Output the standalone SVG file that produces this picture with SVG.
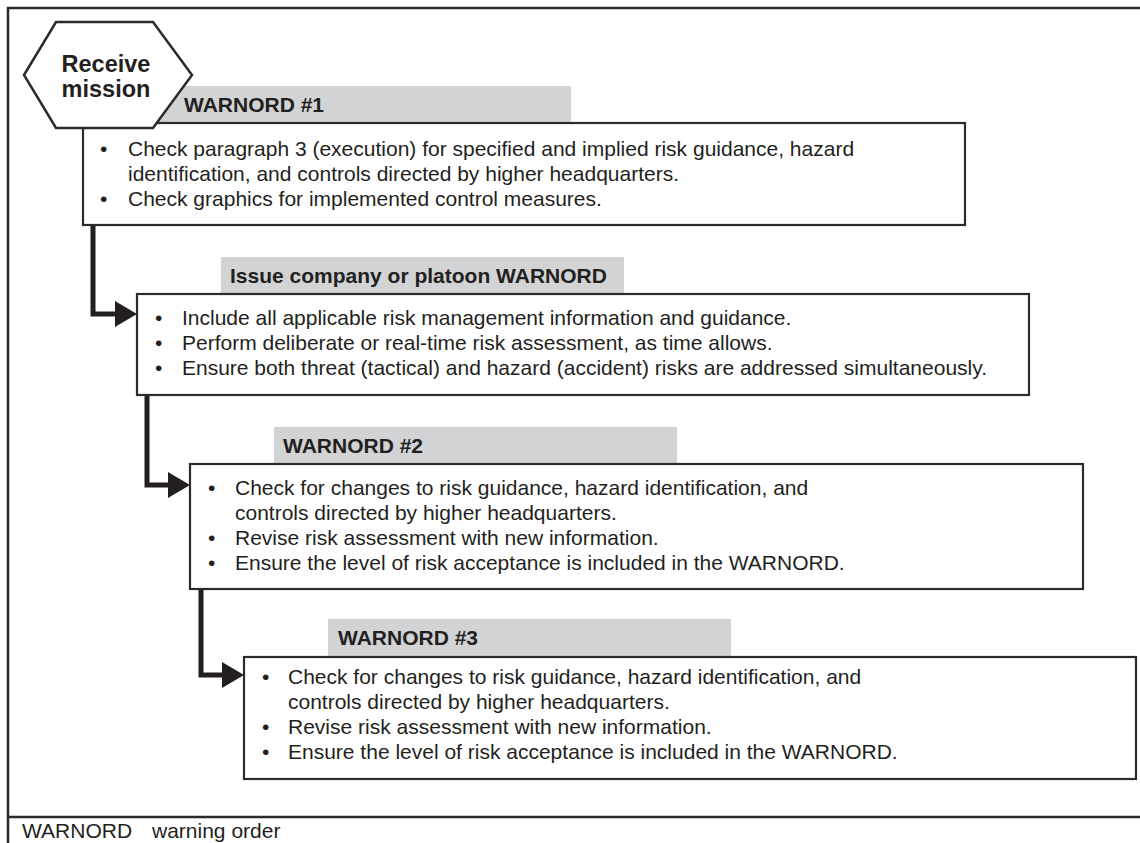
<svg xmlns="http://www.w3.org/2000/svg" width="1140" height="843" viewBox="0 0 1140 843">
<style>
.frame{fill:none;stroke:#2b2b2b;stroke-width:2.5}
.box{fill:#fff;stroke:#2b2b2b;stroke-width:2.2}
.bar{fill:#d1d3d4}
.hex{fill:#fff;stroke:#2b2b2b;stroke-width:2.5}
.hd{font-family:"Liberation Sans",Arial,sans-serif;font-weight:bold;font-size:21px;fill:#231f20}
.hx{font-family:"Liberation Sans",Arial,sans-serif;font-weight:bold;font-size:23.5px;fill:#231f20}
.tx{font-family:"Liberation Sans",Arial,sans-serif;font-size:21px;fill:#231f20}
.conn{fill:none;stroke:#231f20;stroke-width:5}
.ah{fill:#231f20}
</style>
<rect width="1140" height="843" fill="#fff"/>
<g id="frame">
<path class="frame" d="M1142,8 H8 V845"/>
<path class="frame" d="M8,817 H1142"/>
</g>
<g id="connectors">
<path class="conn" d="M93,224 V314 H117"/>
<polygon class="ah" points="115,301 137,314 115,327"/>
<path class="conn" d="M147,395 V485 H170"/>
<polygon class="ah" points="168,472 190,485 168,498"/>
<path class="conn" d="M201,589 V675 H224"/>
<polygon class="ah" points="222,662 244,675 222,688"/>
</g>
<g id="warnord1">
<rect class="bar" x="140" y="86" width="431" height="37"/>
<rect class="box" x="83" y="123" width="882" height="102"/>
<text class="hd" x="184" y="112">WARNORD #1</text>
<text class="tx" x="100" y="156">•</text>
<text class="tx" x="128" y="156">Check paragraph 3 (execution) for specified and implied risk guidance, hazard</text>
<text class="tx" x="128" y="181">identification, and controls directed by higher headquarters.</text>
<text class="tx" x="100" y="206">•</text>
<text class="tx" x="128" y="206">Check graphics for implemented control measures.</text>
</g>
<g id="receive-mission">
<polygon class="hex" points="24,75 56,22 153,22 192,75 153,128 56,128"/>
<text class="hx" x="106" y="72" text-anchor="middle">Receive</text>
<text class="hx" x="106" y="97" text-anchor="middle">mission</text>
</g>
<g id="issue-warnord">
<rect class="bar" x="221" y="257" width="403" height="37"/>
<rect class="box" x="137" y="294" width="892" height="101"/>
<text class="hd" x="230" y="283">Issue company or platoon WARNORD</text>
<text class="tx" x="155" y="325">•</text>
<text class="tx" x="182" y="325">Include all applicable risk management information and guidance.</text>
<text class="tx" x="155" y="350">•</text>
<text class="tx" x="182" y="350">Perform deliberate or real-time risk assessment, as time allows.</text>
<text class="tx" x="155" y="375">•</text>
<text class="tx" x="182" y="375">Ensure both threat (tactical) and hazard (accident) risks are addressed simultaneously.</text>
</g>
<g id="warnord2">
<rect class="bar" x="274" y="427" width="403" height="37"/>
<rect class="box" x="190" y="464" width="893" height="125"/>
<text class="hd" x="283" y="453">WARNORD #2</text>
<text class="tx" x="208" y="495">•</text>
<text class="tx" x="235" y="495">Check for changes to risk guidance, hazard identification, and</text>
<text class="tx" x="235" y="520">controls directed by higher headquarters.</text>
<text class="tx" x="208" y="545">•</text>
<text class="tx" x="235" y="545">Revise risk assessment with new information.</text>
<text class="tx" x="208" y="570">•</text>
<text class="tx" x="235" y="570">Ensure the level of risk acceptance is included in the WARNORD.</text>
</g>
<g id="warnord3">
<rect class="bar" x="328" y="619" width="403" height="38"/>
<rect class="box" x="244" y="657" width="892" height="122"/>
<text class="hd" x="338" y="645">WARNORD #3</text>
<text class="tx" x="262" y="684">•</text>
<text class="tx" x="288" y="684">Check for changes to risk guidance, hazard identification, and</text>
<text class="tx" x="288" y="709">controls directed by higher headquarters.</text>
<text class="tx" x="262" y="734">•</text>
<text class="tx" x="288" y="734">Revise risk assessment with new information.</text>
<text class="tx" x="262" y="759">•</text>
<text class="tx" x="288" y="759">Ensure the level of risk acceptance is included in the WARNORD.</text>
</g>
<g id="legend">
<text class="tx" x="22" y="838">WARNORD</text>
<text class="tx" x="152" y="838">warning order</text>
</g>
</svg>
